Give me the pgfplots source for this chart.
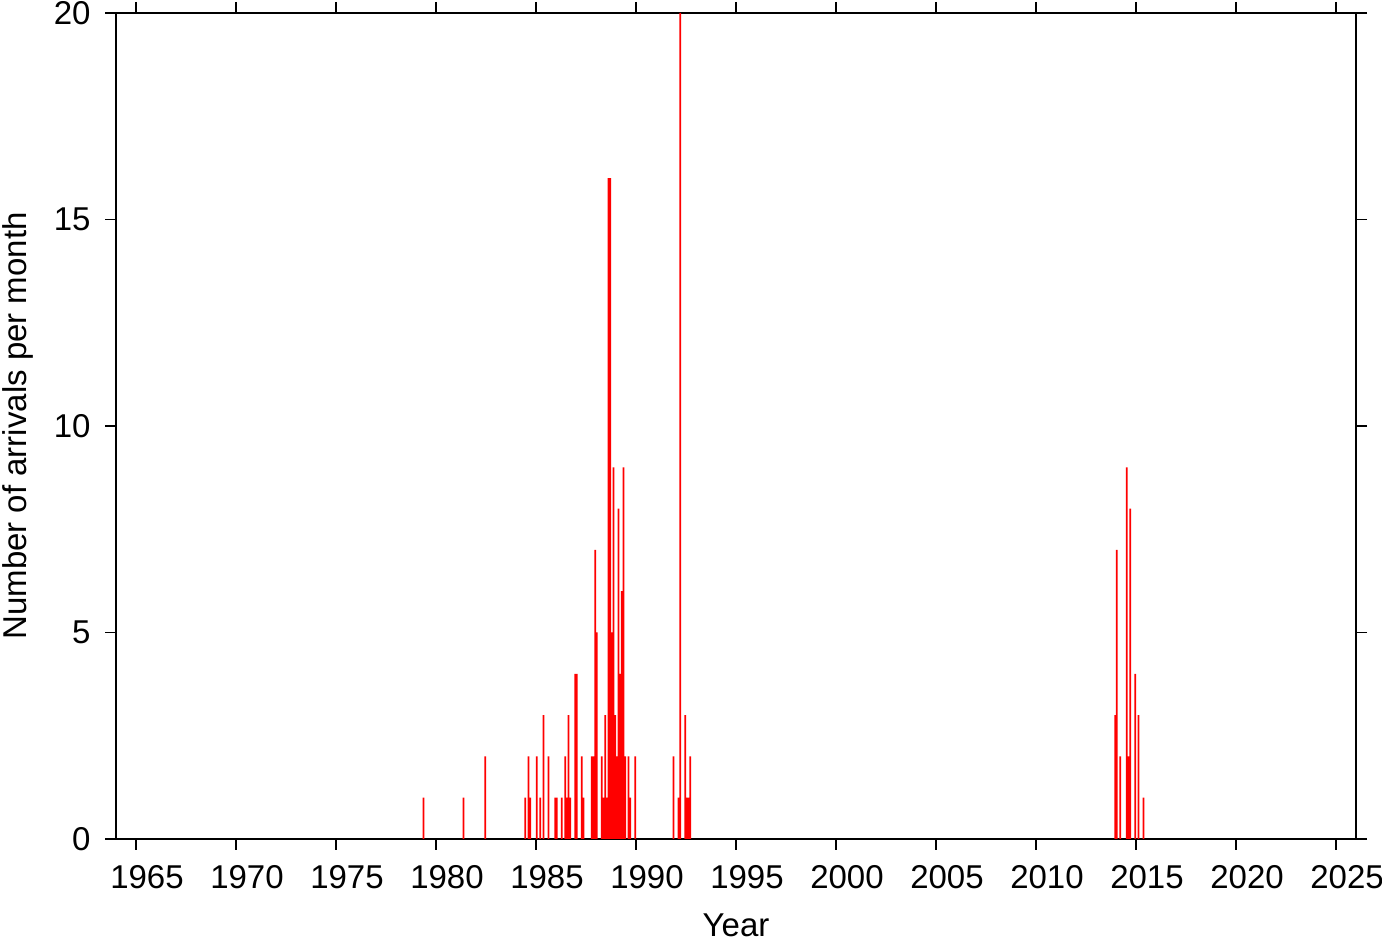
\documentclass[border=0pt]{standalone}
\usepackage{fontspec}
\setmainfont{Liberation Sans}
\usepackage{pgfplots}
\usepackage{pgfplotstable}
\pgfplotsset{compat=1.18}
\pgfplotstableread{
x y
1979.375 1
1981.375 1
1982.458 2
1984.458 1
1984.625 2
1984.708 1
1985.042 2
1985.208 1
1985.375 3
1985.625 2
1985.958 1
1986.042 1
1986.292 1
1986.458 2
1986.542 1
1986.625 3
1986.708 1
1986.958 4
1987.042 4
1987.292 2
1987.375 1
1987.792 2
1987.875 2
1987.958 7
1988.042 5
1988.292 2
1988.375 1
1988.458 3
1988.542 1
1988.625 16
1988.708 16
1988.792 5
1988.875 9
1988.958 3
1989.042 2
1989.125 8
1989.208 4
1989.292 6
1989.375 9
1989.458 2
1989.625 2
1989.708 1
1989.958 2
1991.875 2
1992.125 1
1992.208 20
1992.458 3
1992.542 1
1992.625 1
1992.708 2
2013.958 3
2014.042 7
2014.208 2
2014.542 9
2014.625 2
2014.708 8
2014.958 4
2015.125 3
2015.375 1
}\arrivals
\begin{document}
\begin{tikzpicture}
\begin{axis}[
  scale only axis, width=620pt, height=413pt,
  xmin=1964, xmax=2026, ymin=0, ymax=20,
  xtick={1965,1970,...,2025}, ytick={0,5,10,15,20},
  minor tick num=0,
  tick align=outside, major tick length=5.5pt,
  xtick pos=both, ytick pos=both,
  xticklabel pos=lower, yticklabel pos=left,
  axis line style={line width=1.1pt},
  every tick/.style={black, line width=0.55pt},
  /pgf/number format/assume math mode=true,
  /pgf/number format/1000 sep={},
  tick label style={font=\fontsize{16.5pt}{19pt}\selectfont},
  xticklabel style={yshift=-4pt, xshift=5.5pt},
  yticklabel style={xshift=-3.7pt},
  label style={font=\fontsize{16.5pt}{19pt}\selectfont},
  xlabel={Year},
  ylabel={Number of arrivals per month},
  xlabel style={at={(axis description cs:0.5,-0.1041)}, anchor=center},
  ylabel style={at={(axis description cs:-0.0790,0.5)}, anchor=center},
  clip=true,
]
\addplot[ybar, bar width=0.085, bar shift=0pt, fill=red, draw=none] table[x=x, y=y] {\arrivals};
\coordinate (SW) at (rel axis cs:0,0);
\coordinate (NE) at (rel axis cs:1,1);
\end{axis}
\pgfresetboundingbox
\path[use as bounding box] ([shift={(-58pt,-51.5pt)}]SW) rectangle ([shift={(13pt,6.5pt)}]NE);
\end{tikzpicture}
\end{document}
